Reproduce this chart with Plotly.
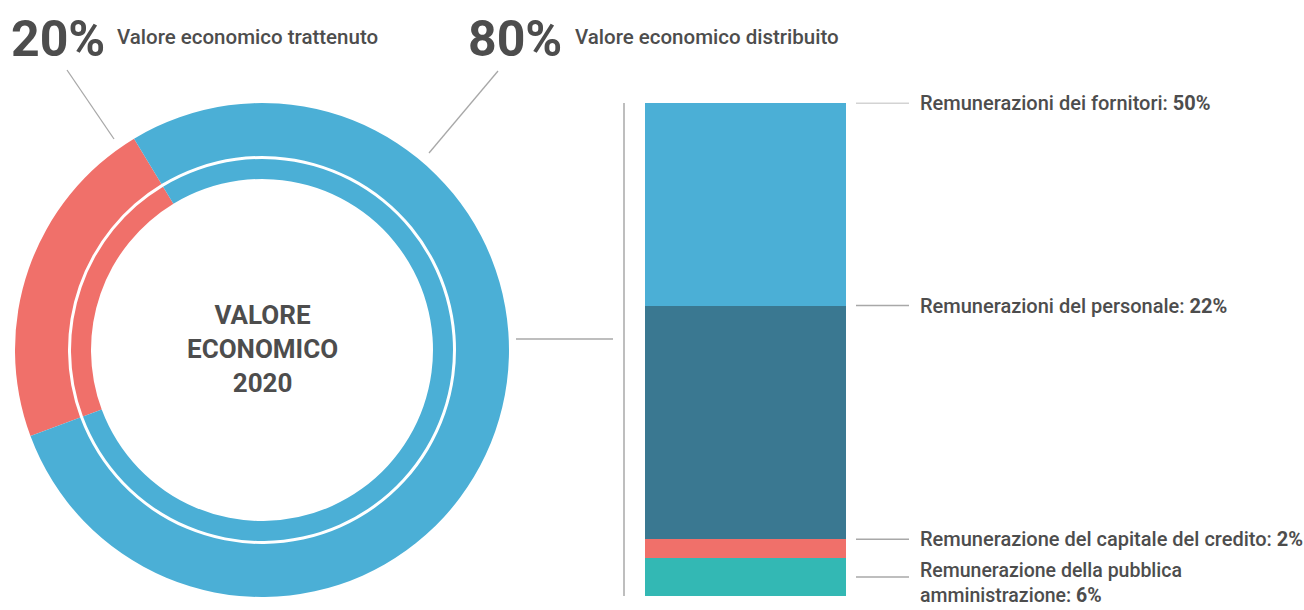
import plotly.graph_objects as go

W, H = 1304, 610

# ---- data ----
donut_labels = ["Valore economico trattenuto", "Valore economico distribuito"]
donut_values = [22, 78]          # proportions as drawn in the ring
donut_text_pct = ["20%", "80%"]
donut_colors = ["#F0706A", "#4BAFD6"]

bar_labels = [
    "Remunerazioni dei fornitori",
    "Remunerazioni del personale",
    "Remunerazione del capitale del credito",
    "Remunerazione della pubblica<br>amministrazione",
]
bar_pct = ["50%", "22%", "2%", "6%"]
bar_heights = [32.9, 37.9, 3.0, 6.2]   # segment heights as drawn (top to bottom)
bar_colors = ["#4BAFD6", "#3A7891", "#F0706A", "#33B8B4"]

center_text = "VALORE<br>ECONOMICO<br>2020"

TXT = "#4d4d4d"
LINE = "#a8a8a8"


def px_x(p):
    return p / W


def px_y(p):
    return 1 - p / H


fig = go.Figure()

# ---- donut: outer ring ----
cx, cy, R = 262, 350, 247
ROT = -110.4
fig.add_trace(go.Pie(
    labels=donut_labels, values=donut_values, sort=False,
    direction="counterclockwise", rotation=ROT,
    hole=194 / 247, textinfo="none", hoverinfo="label+percent",
    marker=dict(colors=donut_colors, line=dict(width=0)),
    domain=dict(x=[px_x(cx - R), px_x(cx + R)], y=[px_y(cy + R), px_y(cy - R)]),
    showlegend=False,
))
# inner ring
r2 = 191
fig.add_trace(go.Pie(
    labels=donut_labels, values=donut_values, sort=False,
    direction="counterclockwise", rotation=ROT,
    hole=171 / 191, textinfo="none", hoverinfo="label+percent",
    marker=dict(colors=donut_colors, line=dict(width=0)),
    domain=dict(x=[px_x(cx - r2), px_x(cx + r2)], y=[px_y(cy + r2), px_y(cy - r2)]),
    showlegend=False,
))

# ---- stacked bar (bottom to top) ----
order = list(range(len(bar_heights)))[::-1]
for i in order:
    fig.add_trace(go.Bar(
        x=[0], y=[bar_heights[i]], marker=dict(color=bar_colors[i], line=dict(width=0)),
        width=1, showlegend=False, name=bar_labels[i].replace("<br>", " "),
        hoverinfo="name",
    ))

total = sum(bar_heights)
tops = []
acc = total
for h in bar_heights:
    tops.append(acc)
    acc -= h
# connector positions: top edge of segments, mid of last
conn_y = tops[:3] + [tops[3] - bar_heights[3] / 2]

fig.update_layout(
    width=W, height=H, margin=dict(l=0, r=0, t=0, b=0),
    paper_bgcolor="white", plot_bgcolor="white", barmode="stack",
    xaxis=dict(domain=[px_x(645), px_x(846)], range=[-0.5, 0.5], visible=False, fixedrange=True),
    yaxis=dict(domain=[px_y(596), px_y(102.7)], range=[0, total], visible=False, fixedrange=True),
    font=dict(family="Roboto", color=TXT),
)

shapes = []
# vertical bracket line and horizontal connector from donut
shapes.append(dict(type="line", xref="paper", yref="paper", x0=px_x(624), x1=px_x(624),
                   y0=px_y(103), y1=px_y(596), line=dict(color=LINE, width=1.5)))
shapes.append(dict(type="line", xref="paper", yref="paper", x0=px_x(516), x1=px_x(613),
                   y0=px_y(339), y1=px_y(339), line=dict(color=LINE, width=1.5)))
# leader lines to big percentages
shapes.append(dict(type="line", xref="paper", yref="paper", x0=px_x(67), x1=px_x(114),
                   y0=px_y(70), y1=px_y(139), line=dict(color=LINE, width=1.3)))
shapes.append(dict(type="line", xref="paper", yref="paper", x0=px_x(498), x1=px_x(429),
                   y0=px_y(71), y1=px_y(153), line=dict(color=LINE, width=1.3)))

LBL = 20
annotations = []
for i, yv in enumerate(conn_y):
    shapes.append(dict(type="line", xref="paper", yref="y", x0=px_x(856), x1=px_x(909),
                       y0=yv, y1=yv, line=dict(color=LINE, width=1.5)))
    txt = f"{bar_labels[i]}: <b>{bar_pct[i]}</b>"
    if i < 3:
        annotations.append(dict(x=px_x(918), y=yv, xref="paper", yref="y", text=txt,
                                showarrow=False, xanchor="left", yanchor="middle",
                                font=dict(size=LBL, color=TXT, family="Roboto", weight=500)))
    else:
        annotations.append(dict(x=px_x(918), y=yv, xref="paper", yref="y", text=txt,
                                showarrow=False, xanchor="left", yanchor="top", yshift=20,
                                align="left",
                                font=dict(size=19.5, color=TXT, family="Roboto", weight=500)))

# big percentages and their captions
big_pos = [(9, 115), (466, 573)]
for (bx, tx), pct, lab in zip(big_pos, donut_text_pct, donut_labels):
    annotations.append(dict(x=px_x(bx), y=px_y(39), xref="paper", yref="paper", text=f"<b>{pct}</b>",
                            showarrow=False, xanchor="left", yanchor="middle",
                            font=dict(size=50, color=TXT, family="Roboto")))
    annotations.append(dict(x=px_x(tx), y=px_y(37), xref="paper", yref="paper", text=lab,
                            showarrow=False, xanchor="left", yanchor="middle",
                            font=dict(size=20.5, color=TXT, family="Roboto", weight=500)))

# centre text
annotations.append(dict(x=px_x(cx), y=px_y(349), xref="paper", yref="paper", text=f"<b>{center_text}</b>",
                        showarrow=False, xanchor="center", yanchor="middle",
                        font=dict(size=26, color=TXT, family="Roboto")))

fig.update_layout(shapes=shapes, annotations=annotations)
fig.write_html("out.html")
